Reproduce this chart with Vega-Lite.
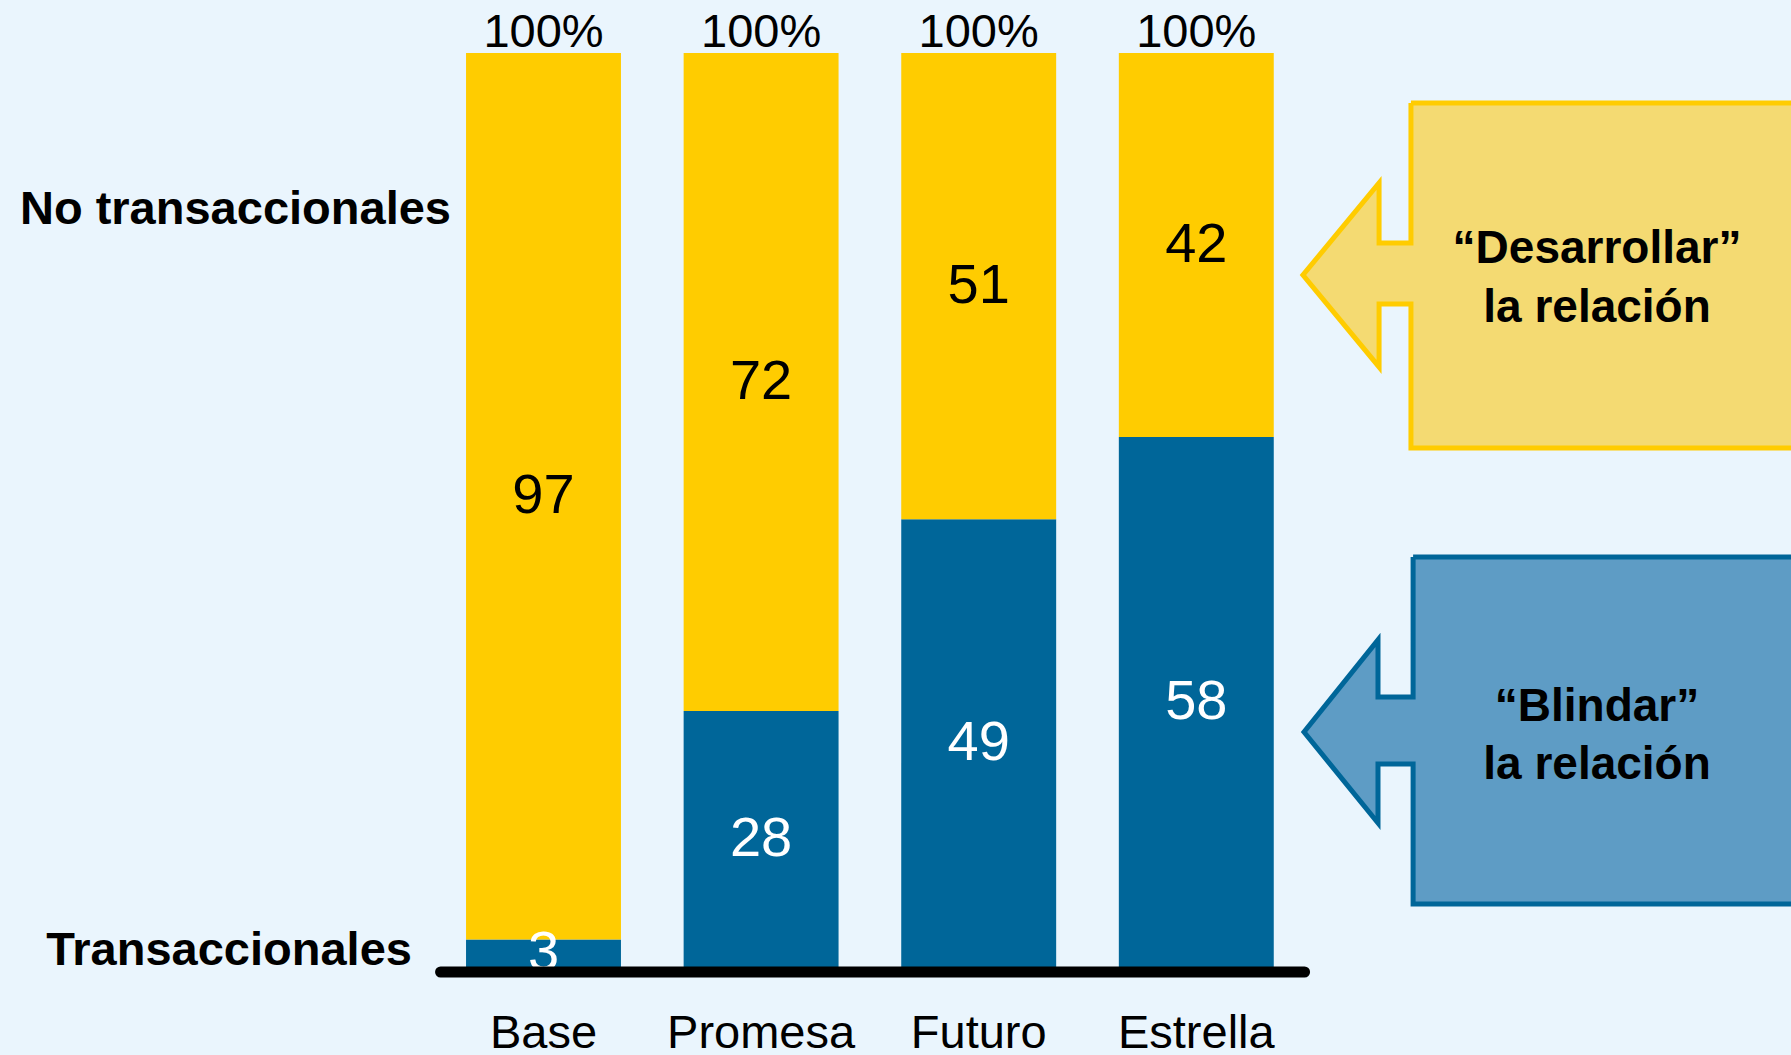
{
  "$schema": "https://vega.github.io/schema/vega-lite/v6.json",
  "width": 1791,
  "height": 1055,
  "padding": 0,
  "autosize": {"type": "none"},
  "background": "#EAF5FD",
  "config": {
    "view": {"stroke": null},
    "text": {"font": "Liberation Sans"}
  },
  "datasets": {
    "segmentos": [
      {"cat": "Base", "tipo": "Transaccionales", "valor": 3},
      {"cat": "Base", "tipo": "No transaccionales", "valor": 97},
      {"cat": "Promesa", "tipo": "Transaccionales", "valor": 28},
      {"cat": "Promesa", "tipo": "No transaccionales", "valor": 72},
      {"cat": "Futuro", "tipo": "Transaccionales", "valor": 49},
      {"cat": "Futuro", "tipo": "No transaccionales", "valor": 51},
      {"cat": "Estrella", "tipo": "Transaccionales", "valor": 58},
      {"cat": "Estrella", "tipo": "No transaccionales", "valor": 42}
    ],
    "flechas": [
      {"flecha": "desarrollar", "orden": 1, "u": 78.78, "v": 94.53},
      {"flecha": "desarrollar", "orden": 2, "u": 101, "v": 94.53},
      {"flecha": "desarrollar", "orden": 3, "u": 101, "v": 56.78},
      {"flecha": "desarrollar", "orden": 4, "u": 78.78, "v": 56.78},
      {"flecha": "desarrollar", "orden": 5, "u": 78.78, "v": 72.54},
      {"flecha": "desarrollar", "orden": 6, "u": 77.0, "v": 72.54},
      {"flecha": "desarrollar", "orden": 7, "u": 77.0, "v": 65.65},
      {"flecha": "desarrollar", "orden": 8, "u": 72.75, "v": 75.71},
      {"flecha": "desarrollar", "orden": 9, "u": 77.0, "v": 85.78},
      {"flecha": "desarrollar", "orden": 10, "u": 77.0, "v": 79.21},
      {"flecha": "desarrollar", "orden": 11, "u": 78.78, "v": 79.21},
      {"flecha": "desarrollar", "orden": 12, "u": 78.78, "v": 94.53},
      {"flecha": "blindar", "orden": 1, "u": 78.9, "v": 44.86},
      {"flecha": "blindar", "orden": 2, "u": 101, "v": 44.86},
      {"flecha": "blindar", "orden": 3, "u": 101, "v": 6.89},
      {"flecha": "blindar", "orden": 4, "u": 78.9, "v": 6.89},
      {"flecha": "blindar", "orden": 5, "u": 78.9, "v": 22.21},
      {"flecha": "blindar", "orden": 6, "u": 76.94, "v": 22.21},
      {"flecha": "blindar", "orden": 7, "u": 76.94, "v": 15.75},
      {"flecha": "blindar", "orden": 8, "u": 72.81, "v": 25.71},
      {"flecha": "blindar", "orden": 9, "u": 76.94, "v": 35.78},
      {"flecha": "blindar", "orden": 10, "u": 76.94, "v": 29.54},
      {"flecha": "blindar", "orden": 11, "u": 78.9, "v": 29.54},
      {"flecha": "blindar", "orden": 12, "u": 78.9, "v": 44.86}
    ],
    "etiquetas": [
      {"texto": "No transaccionales", "u": 25.18, "v": 81.29},
      {"texto": "Transaccionales", "u": 23.0, "v": 0.22}
    ],
    "cajas": [
      {"texto": "“Desarrollar”", "u": 89.17, "v": 77.02},
      {"texto": "la relación", "u": 89.17, "v": 70.57},
      {"texto": "“Blindar”", "u": 89.17, "v": 26.92},
      {"texto": "la relación", "u": 89.17, "v": 20.57}
    ],
    "base": [
      {"u": 24.6, "u2": 72.84, "v": -0.55}
    ]
  },
  "layer": [
    {
      "data": {"name": "segmentos"},
      "layer": [
        {
          "mark": {"type": "bar"},
          "encoding": {
            "x": {
              "field": "cat",
              "type": "nominal",
              "scale": {
                "domain": ["Base", "Promesa", "Futuro", "Estrella"],
                "range": [434.7, 1305.1],
                "paddingInner": 0.288,
                "paddingOuter": 0.144
              },
              "axis": null
            },
            "y": {
              "field": "valor",
              "type": "quantitative",
              "stack": "zero",
              "scale": {"domain": [-9.63, 105.8], "nice": false, "zero": false},
              "axis": null
            },
            "color": {
              "field": "tipo",
              "type": "nominal",
              "scale": {
                "domain": ["Transaccionales", "No transaccionales"],
                "range": ["#006699", "#FFCC00"]
              },
              "legend": null
            },
            "order": {"field": "tipo", "type": "nominal", "sort": "descending"}
          }
        },
        {
          "mark": {"type": "text", "fontSize": 56, "baseline": "middle", "align": "center"},
          "encoding": {
            "x": {"field": "cat", "type": "nominal", "axis": null},
            "y": {
              "field": "valor",
              "type": "quantitative",
              "stack": "zero",
              "bandPosition": 0.5,
              "axis": null
            },
            "detail": {"field": "tipo", "type": "nominal"},
            "order": {"field": "tipo", "type": "nominal", "sort": "descending"},
            "text": {"field": "valor", "type": "quantitative"},
            "color": {
              "condition": {"test": "datum.tipo == 'Transaccionales'", "value": "white"},
              "value": "black"
            }
          }
        },
        {
          "mark": {"type": "text", "fontSize": 47, "baseline": "alphabetic", "align": "center", "dy": -6, "color": "black"},
          "encoding": {
            "x": {"field": "cat", "type": "nominal", "axis": null},
            "y": {"aggregate": "sum", "field": "valor", "type": "quantitative", "axis": null},
            "text": {"value": "100%"}
          }
        },
        {
          "transform": [{"filter": "datum.tipo == 'Transaccionales'"}],
          "mark": {"type": "text", "fontSize": 47, "baseline": "alphabetic", "align": "center", "color": "black"},
          "encoding": {
            "x": {"field": "cat", "type": "nominal", "axis": null},
            "y": {"datum": -8.86, "type": "quantitative", "axis": null},
            "text": {"field": "cat", "type": "nominal"}
          }
        }
      ]
    },
    {
      "layer": [
        {
          "data": {"name": "flechas"},
          "transform": [{"filter": "datum.flecha == 'desarrollar'"}],
          "mark": {"type": "line", "fill": "#F4DA72", "stroke": "#FFCC00", "strokeWidth": 5, "strokeJoin": "miter"},
          "encoding": {
            "x": {"field": "u", "type": "quantitative", "scale": {"domain": [0, 100], "nice": false, "zero": false}, "axis": null},
            "y": {"field": "v", "type": "quantitative", "axis": null},
            "order": {"field": "orden", "type": "quantitative"}
          }
        },
        {
          "data": {"name": "flechas"},
          "transform": [{"filter": "datum.flecha == 'blindar'"}],
          "mark": {"type": "line", "fill": "#5E9CC5", "stroke": "#006699", "strokeWidth": 5, "strokeJoin": "miter"},
          "encoding": {
            "x": {"field": "u", "type": "quantitative", "axis": null},
            "y": {"field": "v", "type": "quantitative", "axis": null},
            "order": {"field": "orden", "type": "quantitative"}
          }
        },
        {
          "data": {"name": "base"},
          "mark": {"type": "rule", "color": "black", "strokeWidth": 11, "strokeCap": "round"},
          "encoding": {
            "x": {"field": "u", "type": "quantitative", "axis": null},
            "x2": {"field": "u2"},
            "y": {"field": "v", "type": "quantitative", "axis": null}
          }
        },
        {
          "data": {"name": "etiquetas"},
          "mark": {"type": "text", "fontSize": 47, "fontWeight": "bold", "align": "right", "baseline": "alphabetic", "color": "black"},
          "encoding": {
            "x": {"field": "u", "type": "quantitative", "axis": null},
            "y": {"field": "v", "type": "quantitative", "axis": null},
            "text": {"field": "texto", "type": "nominal"}
          }
        },
        {
          "data": {"name": "cajas"},
          "mark": {"type": "text", "fontSize": 46, "fontWeight": "bold", "align": "center", "baseline": "alphabetic", "color": "black"},
          "encoding": {
            "x": {"field": "u", "type": "quantitative", "axis": null},
            "y": {"field": "v", "type": "quantitative", "axis": null},
            "text": {"field": "texto", "type": "nominal"}
          }
        }
      ]
    }
  ],
  "resolve": {"scale": {"x": "independent"}}
}
